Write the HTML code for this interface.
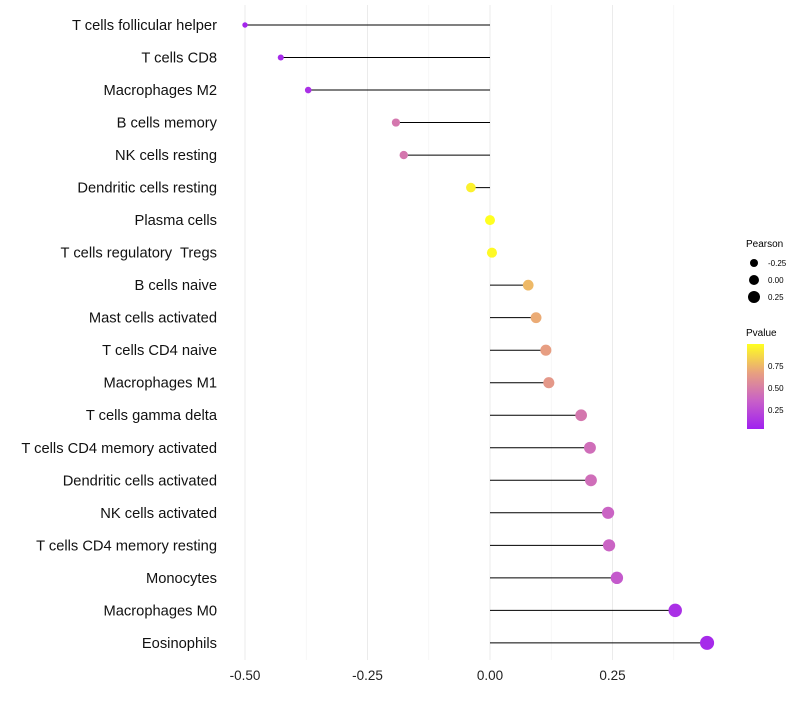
<!DOCTYPE html>
<html><head><meta charset="utf-8"><style>
body{margin:0;background:#fff;font-family:"Liberation Sans",sans-serif;}
text{white-space:pre;}
</style></head><body>
<svg id="chart" width="800" height="700" xmlns="http://www.w3.org/2000/svg">
<defs><linearGradient id="pg" x1="0" y1="1" x2="0" y2="0">
<stop offset="0" stop-color="#A020F0"/><stop offset="0.33" stop-color="#C860C8"/><stop offset="0.66" stop-color="#E8A080"/><stop offset="1" stop-color="#FFFF20"/>
</linearGradient></defs>
<g id="grid"></g><g id="marks"></g><g id="labels"></g>
<g font-size="10" fill="#000">
<text x="746" y="247">Pearson</text>
<circle cx="754" cy="263" r="4"/><text x="768" y="266" font-size="8">-0.25</text>
<circle cx="754" cy="280" r="5"/><text x="768" y="283" font-size="8">0.00</text>
<circle cx="754" cy="297" r="6"/><text x="768" y="300" font-size="8">0.25</text>
<text x="746" y="336">Pvalue</text>
<rect x="747" y="344" width="17" height="85" fill="url(#pg)"/>
<text x="768" y="369" font-size="8">0.75</text>
<text x="768" y="391" font-size="8">0.50</text>
<text x="768" y="413" font-size="8">0.25</text>
</g>
</svg>
<script>
const categories=["T cells follicular helper","T cells CD8","Macrophages M2","B cells memory","NK cells resting","Dendritic cells resting","Plasma cells","T cells regulatory  Tregs","B cells naive","Mast cells activated","T cells CD4 naive","Macrophages M1","T cells gamma delta","T cells CD4 memory activated","Dendritic cells activated","NK cells activated","T cells CD4 memory resting","Monocytes","Macrophages M0","Eosinophils"];
const pearson=[-0.50,-0.427,-0.371,-0.192,-0.176,-0.039,0.0,0.004,0.078,0.094,0.114,0.12,0.186,0.204,0.206,0.241,0.243,0.259,0.378,0.443];
const pvalue=[0.03,0.05,0.08,0.45,0.45,0.95,1.0,0.98,0.75,0.7,0.65,0.62,0.45,0.4,0.4,0.35,0.35,0.3,0.08,0.05];
const xTicks=[-0.5,-0.25,0,0.25];
const xTickLabels=["-0.50","-0.25","0.00","0.25"];
const NS="http://www.w3.org/2000/svg";
const x=v=>490+v*490;
const y=i=>25+i*32.52;
const r=v=>5+4.6*v;
function col(p){const st=[[0,[160,32,240]],[0.33,[200,96,200]],[0.66,[232,160,128]],[1,[255,255,32]]];
for(let k=1;k<st.length;k++){if(p<=st[k][0]){const a=st[k-1],b=st[k],t=(p-a[0])/(b[0]-a[0]);return "rgb("+a[1].map((c,j)=>Math.round(c+(b[1][j]-c)*t)).join(",")+")";}}return "rgb(255,255,32)";}
function mk(t,a,p){const e=document.createElementNS(NS,t);for(const k in a)e.setAttribute(k,a[k]);p.appendChild(e);return e;}
const g=document.getElementById('grid'),m=document.getElementById('marks'),l=document.getElementById('labels');
for(let v=-0.5;v<=0.45;v+=0.125){const major=Math.abs(v*8%2)<1e-6;const gl=mk('line',{x1:x(v),x2:x(v),y1:5,y2:660,stroke:major?'#ebebeb':'#f3f3f3','stroke-width':major?1:0.6},g);

}
xTicks.forEach((v,i)=>{const t=mk('text',{x:x(v),y:680,'text-anchor':'middle','font-size':13.5,fill:'#222'},l);t.textContent=xTickLabels[i];

});
categories.forEach((c,i)=>{
const ln=mk('line',{x1:x(0),x2:x(pearson[i]),y1:y(i),y2:y(i),stroke:'#000','stroke-width':1},m);


const ci=mk('circle',{cx:x(pearson[i]),cy:y(i),r:r(pearson[i]),fill:col(pvalue[i])},m);


const t=mk('text',{x:217,y:y(i)+5,'text-anchor':'end','font-size':14.7,fill:'#111'},l);t.textContent=c;

});
</script>
</body></html>
